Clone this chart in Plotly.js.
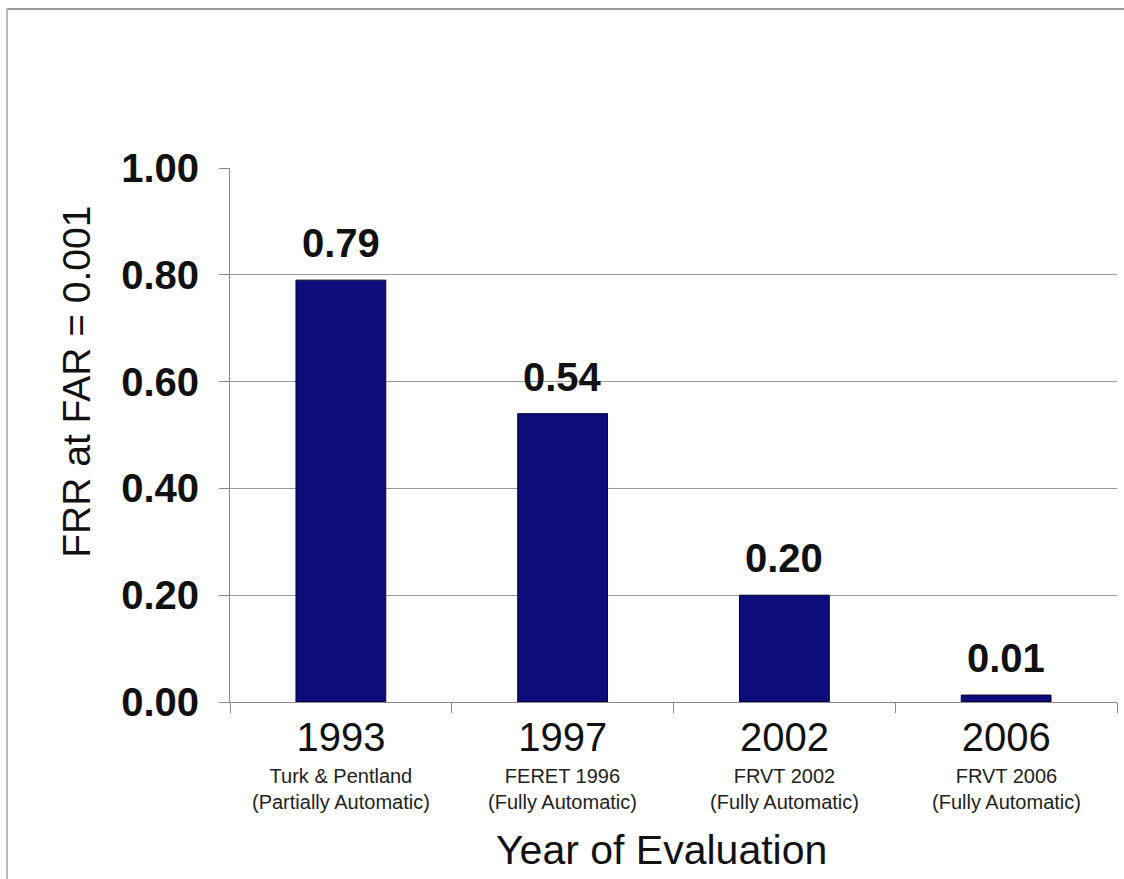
<!DOCTYPE html>
<html>
<head>
<meta charset="utf-8">
<script src="https://cdn.plot.ly/plotly-3.0.1.min.js"></script>
<style>
  html, body { margin: 0; padding: 0; background: #fff; }
  #wrap { position: relative; width: 1124px; height: 879px; }
  #chart { width: 1124px; height: 879px; }
  .frameTop { position: absolute; left: 7px; top: 8px; width: 1117px; height: 2px; background: #9a9a9a; pointer-events: none; }
  .frameLeft { position: absolute; left: 6px; top: 8px; width: 2px; height: 871px; background: #b8b8b8; pointer-events: none; }
</style>
</head>
<body>
<div id="wrap">
  <div id="chart"></div>
  <div class="frameTop"></div>
  <div class="frameLeft"></div>
</div>
<script>
// ---- data ----
const years = ["1993", "1997", "2002", "2006"];
const evaluations = ["Turk &amp; Pentland", "FERET 1996", "FRVT 2002", "FRVT 2006"];
const modes = ["(Partially Automatic)", "(Fully Automatic)", "(Fully Automatic)", "(Fully Automatic)"];
const frr = [0.79, 0.54, 0.20, 0.013];
const yTicks = [0, 0.2, 0.4, 0.6, 0.8, 1.0];
const yTickLabels = ["0.00", "0.20", "0.40", "0.60", "0.80", "1.00"];
const xTitle = "Year of Evaluation";
const yTitle = "FRR at FAR = 0.001";

const font = "Arial, 'Liberation Sans', sans-serif";

const trace = {
  type: "bar",
  x: years,
  y: frr,
  width: 0.405,
  marker: { color: "#0c0c7a", line: { color: "#05052a", width: 1 } },
  hoverinfo: "x+y"
};

const annotations = [];
years.forEach((yr, i) => {
  annotations.push({
    x: i, y: frr[i], xref: "x", yref: "y",
    text: frr[i].toFixed(2),
    showarrow: false, yanchor: "bottom", yshift: 13,
    font: { family: font, size: 40, color: "#111", weight: "bold" }
  });
  annotations.push({
    x: i, y: 0, xref: "x", yref: "y",
    text: evaluations[i] + "<br>" + modes[i],
    showarrow: false, yanchor: "top", yshift: -61,
    font: { family: font, size: 20, color: "#222" }
  });
});
// axis titles placed as annotations to match reference offsets
annotations.push({
  xref: "paper", yref: "paper", x: 0.486, y: -0.277,
  text: xTitle, showarrow: false, xanchor: "center", yanchor: "middle",
  font: { family: font, size: 41, color: "#111" }
});
annotations.push({
  xref: "paper", yref: "paper", x: -0.174, y: 0.599,
  text: yTitle, showarrow: false, textangle: -90, xanchor: "center", yanchor: "middle",
  font: { family: font, size: 39, color: "#111" }
});

const layout = {
  width: 1124, height: 879,
  margin: { l: 230, r: 7, t: 168, b: 177 },
  paper_bgcolor: "#fff", plot_bgcolor: "#fff",
  showlegend: false,
  xaxis: {
    type: "category",
    range: [-0.5, 3.5],
    tickangle: 0,
    showline: true, linecolor: "#8a8a8a", linewidth: 1,
    ticks: "outside", tickson: "boundaries", ticklen: 10, tickcolor: "#8a8a8a",
    tickfont: { family: font, size: 40, color: "#111" },
    showgrid: false
  },
  yaxis: {
    range: [0, 1],
    tickvals: yTicks, ticktext: yTickLabels,
    tickfont: { family: font, size: 40, color: "#111", weight: "bold" },
    ticks: "outside", ticklen: 10, tickcolor: "#8a8a8a",
    ticklabelstandoff: 12,
    showline: true, linecolor: "#8a8a8a", linewidth: 1,
    showgrid: true, gridcolor: "#9a9a9a", gridwidth: 1,
    zeroline: false
  },
  annotations: annotations
};

Plotly.newPlot("chart", [trace], layout, { displayModeBar: false, staticPlot: true });
</script>
</body>
</html>
